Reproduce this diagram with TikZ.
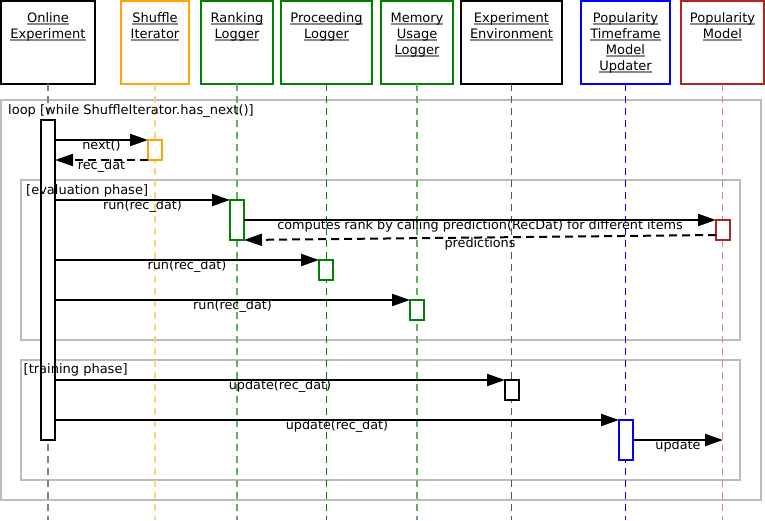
\documentclass[tikz,border=0pt]{standalone}
\usepackage{fontspec}
\setmainfont{DejaVu Sans}
\usetikzlibrary{arrows.meta,calc}
\definecolor{framegray}{HTML}{BBBBBB}
\definecolor{ulgray}{HTML}{888888}
\definecolor{sorange}{HTML}{FFA500}
\definecolor{sgreen}{HTML}{008000}
\definecolor{sblue}{HTML}{0000FF}
\definecolor{sred}{HTML}{B22222}
\definecolor{lgray}{HTML}{808080}
\definecolor{lorange}{HTML}{FFD280}
\definecolor{lgreen}{HTML}{5FB05F}
\definecolor{ldgray}{HTML}{555555}
\definecolor{lred}{HTML}{D48A8A}
\newcommand\hul[1]{\setbox0\hbox{#1}\rlap{\color{ulgray}\rule[-2.5pt]{\wd0}{1.6pt}}\box0}
\begin{document}
\begin{tikzpicture}[x=1pt,y=-1pt,
  hbox/.style={draw, line width=2pt, minimum height=83pt, inner sep=0pt, outer sep=0pt},
  htext/.style={font=\fontsize{13}{16}\selectfont, align=center, anchor=base, inner sep=0pt},
  life/.style={line width=1.2pt, dash pattern=on 7pt off 5pt},
  act/.style={draw, fill=white, line width=2pt, minimum width=14pt, minimum height=20pt, inner sep=0pt, outer sep=0pt},
  frm/.style={draw=framegray, line width=2pt, inner sep=0pt, outer sep=0pt},
  flbl/.style={font=\fontsize{13}{16}\selectfont, anchor=base west, inner sep=0pt},
  msg/.style={line width=2pt, -{Triangle[length=18pt,width=12pt]}},
  ret/.style={msg, dash pattern=on 8pt off 5pt},
  lbl/.style={font=\fontsize{12.8}{15}\selectfont, anchor=base, yshift=-9.5pt, inner sep=0pt}
]
\useasboundingbox (0,0) rectangle (765,520);
\fill[white] (0,0) rectangle (765,520);

% frames
\node[frm, minimum width=760pt, minimum height=400pt] (loop) at (381,300) {};
\node[frm, minimum width=719pt, minimum height=160pt] (evalf) at (380.5,260) {};
\node[frm, minimum width=719pt, minimum height=120pt] (trainf) at (380.5,420) {};

% header boxes
\node[hbox, draw=black, minimum width=94pt] (hOE) at (48,42.5) {};
\node[hbox, draw=sorange, minimum width=68pt] (hSI) at (155,42.5) {};
\node[hbox, draw=sgreen, minimum width=72pt] (hRL) at (237,42.5) {};
\node[hbox, draw=sgreen, minimum width=91pt] (hPL) at (326.5,42.5) {};
\node[hbox, draw=sgreen, minimum width=72pt] (hML) at (417,42.5) {};
\node[hbox, draw=black, minimum width=101pt] (hEE) at (511.5,42.5) {};
\node[hbox, draw=sblue, minimum width=89pt] (hPU) at (625.5,42.5) {};
\node[hbox, draw=sred, minimum width=83pt] (hPM) at (722.5,42.5) {};

% header texts (anchor base = last line's baseline)
\node[htext] (tOE) at (48,38.5) {\hul{Online}\\\hul{Experiment}};
\node[htext] (tSI) at (155,38.5) {\hul{Shuffle}\\\hul{Iterator}};
\node[htext] (tRL) at (237,38.5) {\hul{Ranking}\\\hul{Logger}};
\node[htext] (tPL) at (326.5,38.5) {\hul{Proceeding}\\\hul{Logger}};
\node[htext] (tML) at (417,54.5) {\hul{Memory}\\\hul{Usage}\\\hul{Logger}};
\node[htext] (tEE) at (511.5,38.5) {\hul{Experiment}\\\hul{Environment}};
\node[htext] (tPU) at (625.5,70.5) {\hul{Popularity}\\\hul{Timeframe}\\\hul{Model}\\\hul{Updater}};
\node[htext] (tPM) at (722.5,38.5) {\hul{Popularity}\\\hul{Model}};

% lifelines
\coordinate (eOE) at (48,520);
\coordinate (eSI) at (155,520);
\coordinate (eRL) at (237,520);
\coordinate (ePL) at (326.5,520);
\coordinate (eML) at (417,520);
\coordinate (eEE) at (511.5,520);
\coordinate (ePU) at (625.5,520);
\coordinate (ePM) at (722.5,520);
\draw[life, draw=lgray] (hOE.south) -- (eOE);
\draw[life, draw=lorange] (hSI.south) -- (eSI);
\draw[life, draw=lgreen] (hRL.south) -- (eRL);
\draw[life, draw=sgreen] (hPL.south) -- (ePL);
\draw[life, draw=lgreen] (hML.south) -- (eML);
\draw[life, draw=ldgray] (hEE.south) -- (eEE);
\draw[life, draw=sblue, line width=1pt] (hPU.south) -- (ePU);
\draw[life, draw=lred] (hPM.south) -- (ePM);

% activation bars
\node[act, draw=black, minimum height=320pt] (ob) at (48,280) {};
\node[act, draw=sorange] (sb) at (155,150) {};
\node[act, draw=sgreen, minimum height=40pt] (rl) at (237,220) {};
\node[act, draw=sred] (pm) at (723,230) {};
\node[act, draw=sgreen] (pl) at (326,270) {};
\node[act, draw=sgreen] (ml) at (417,310) {};
\node[act, draw=black] (ee) at (512,390) {};
\node[act, draw=sblue, minimum height=40pt] (pu) at (626,440) {};

% frame labels (drawn over the bars)
\node[flbl] (lloop) at (8,114.3) {loop [while ShuffleIterator.has\_next()]};
\node[flbl] (leval) at (26,194) {[evaluation phase]};
\node[flbl] (ltrain) at (23.5,373) {[training phase]};

% messages
\draw[msg] (ob.east |- sb.north west) -- node[lbl] (lnext) {next()} (sb.north west);
\draw[ret] (sb.south west) -- node[lbl] (lrec) {rec\_dat} (ob.east |- sb.south west);
\draw[msg] (ob.east |- rl.north west) -- node[lbl] (lrun1) {run(rec\_dat)} (rl.north west);
\draw[msg] (rl.east) -- node[lbl] (lcomp) {computes rank by calling prediction(RecDat) for different items} (pm.north west);
\draw[ret] ($(pm.south west)+(0,-5)$) -- node[lbl] (lpred) {predictions} (rl.south east);
\draw[msg] (ob.east |- pl.north west) -- node[lbl] (lrun2) {run(rec\_dat)} (pl.north west);
\draw[msg] (ob.east |- ml.north west) -- node[lbl] (lrun3) {run(rec\_dat)} (ml.north west);
\draw[msg] (ob.east |- ee.north west) -- node[lbl] (lupd1) {update(rec\_dat)} (ee.north west);
\draw[msg] (ob.east |- pu.north west) -- node[lbl] (lupd2) {update(rec\_dat)} (pu.north west);
\draw[msg] (pu.east) -- node[lbl] (lupd3) {update} (pm |- pu.east);
\end{tikzpicture}
\end{document}
